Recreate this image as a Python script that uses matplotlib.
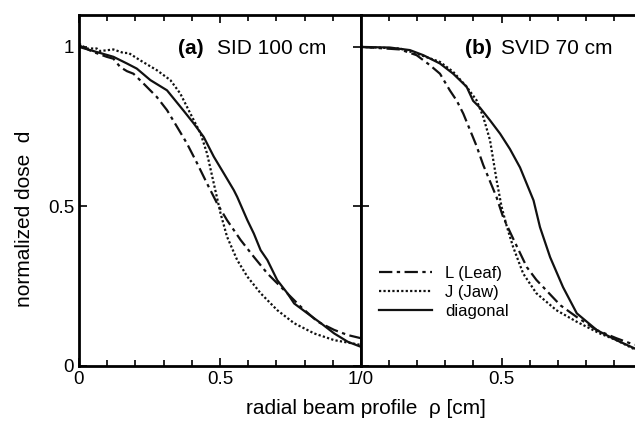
import numpy as np
import matplotlib
matplotlib.use('Agg')
import matplotlib.pyplot as plt
from matplotlib.ticker import MultipleLocator

plt.rcParams['font.family'] = ['Liberation Sans', 'DejaVu Sans']

# (a) SID 100 cm
a_diag_x = [0, 0.075, 0.122, 0.17, 0.205, 0.253, 0.312, 0.371, 0.407, 0.442, 0.478, 0.514,
            0.549, 0.561, 0.597, 0.62, 0.644, 0.668, 0.703, 0.739, 0.763, 0.81, 0.858, 0.905, 0.953, 1.0]
a_diag_y = [1.0, 0.981, 0.969, 0.948, 0.932, 0.896, 0.864, 0.80, 0.76, 0.718, 0.656, 0.603,
            0.551, 0.53, 0.457, 0.415, 0.363, 0.332, 0.269, 0.228, 0.196, 0.165, 0.134, 0.102, 0.076, 0.06]
a_jaw_x = [0, 0.027, 0.063, 0.075, 0.122, 0.158, 0.176, 0.217, 0.276, 0.324, 0.359, 0.395, 0.431,
           0.454, 0.478, 0.502, 0.525, 0.561, 0.597, 0.644, 0.703, 0.763, 0.834, 0.905, 1.0]
a_jaw_y = [1.01, 0.995, 0.995, 0.987, 0.992, 0.981, 0.981, 0.958, 0.927, 0.896, 0.854, 0.791, 0.729,
           0.666, 0.572, 0.478, 0.405, 0.332, 0.28, 0.228, 0.175, 0.134, 0.102, 0.081, 0.066]
a_leaf_x = [0, 0.051, 0.098, 0.122, 0.146, 0.17, 0.193, 0.229, 0.276, 0.312, 0.348, 0.383, 0.419,
            0.454, 0.49, 0.525, 0.573, 0.62, 0.668, 0.727, 0.786, 0.846, 0.905, 0.953, 1.0]
a_leaf_y = [1.005, 0.984, 0.969, 0.963, 0.937, 0.924, 0.916, 0.885, 0.843, 0.802, 0.749, 0.697, 0.635,
            0.572, 0.509, 0.457, 0.395, 0.342, 0.29, 0.238, 0.186, 0.139, 0.113, 0.097, 0.087]

# (b) SVID 70 cm
b_diag_x = [0, 0.103, 0.174, 0.222, 0.281, 0.328, 0.376, 0.399, 0.423, 0.459, 0.495, 0.53, 0.566,
            0.614, 0.637, 0.673, 0.719, 0.768, 0.84, 0.909, 0.974]
b_diag_y = [1.0, 0.998, 0.99, 0.974, 0.948, 0.916, 0.875, 0.831, 0.81, 0.77, 0.728, 0.68, 0.622,
            0.519, 0.435, 0.341, 0.247, 0.165, 0.112, 0.081, 0.055]
b_jaw_x = [0, 0.139, 0.198, 0.281, 0.328, 0.376, 0.411, 0.435, 0.459, 0.483, 0.5, 0.518, 0.541,
           0.577, 0.624, 0.695, 0.767, 0.85, 0.909, 0.974]
b_jaw_y = [1.0, 0.995, 0.979, 0.953, 0.922, 0.875, 0.833, 0.781, 0.708, 0.58, 0.5, 0.44, 0.374,
           0.29, 0.228, 0.175, 0.139, 0.102, 0.081, 0.052]
b_leaf_x = [0, 0.139, 0.198, 0.245, 0.281, 0.316, 0.341, 0.364, 0.411, 0.435, 0.482, 0.506, 0.541,
            0.59, 0.624, 0.71, 0.767, 0.838, 0.909, 0.974]
b_leaf_y = [1.0, 0.992, 0.974, 0.943, 0.916, 0.864, 0.831, 0.791, 0.69, 0.63, 0.53, 0.466, 0.4,
            0.31, 0.27, 0.19, 0.154, 0.113, 0.087, 0.066]

labels = ['L (Leaf)', 'J (Jaw)', 'diagonal']

fig = plt.figure(figsize=(6.35, 4.25), dpi=100)
ax1 = fig.add_axes([79/635, 59/425, 282/635, 351/425])
ax2 = fig.add_axes([361/635, 59/425, 274/635, 351/425])

lw = 1.6
for ax, leaf, jaw, diag in [(ax1, (a_leaf_x, a_leaf_y), (a_jaw_x, a_jaw_y), (a_diag_x, a_diag_y)),
                            (ax2, (b_leaf_x, b_leaf_y), (b_jaw_x, b_jaw_y), (b_diag_x, b_diag_y))]:
    ax.plot(*leaf, color='#111', lw=lw, ls=(0, (6, 2, 1.5, 2)), label=labels[0])
    ax.plot(*jaw, color='#111', lw=lw, ls=(0, (1, 1)), label=labels[1])
    ax.plot(*diag, color='#111', lw=lw, ls='-', label=labels[2])
    ax.set_ylim(0, 1.1)
    ax.xaxis.set_minor_locator(MultipleLocator(0.1))
    ax.tick_params(which='both', direction='in', top=True, right=True, labelsize=13.5, width=1.2)
    ax.tick_params(which='major', length=6)
    ax.tick_params(which='minor', length=4)
    for s in ax.spines.values():
        s.set_linewidth(2)

ax1.set_xlim(0, 1.0)
ax1.set_xticks([0, 0.5, 1.0])
ax1.set_xticklabels(['0', '0.5', '1/0'])
ax1.set_yticks([0, 0.5, 1])
ax1.set_yticklabels(['0', '0.5', '1'])
ax1.set_ylabel('normalized dose  d', fontsize=15)
ax1.yaxis.set_label_coords(-0.16, 0.42)

ax2.set_xlim(0, 274/281)
ax2.set_xticks([0, 0.5])
ax2.set_xticklabels(['', '0.5'])
ax2.set_yticks([0, 0.5, 1])
ax2.set_yticklabels([])
ax2.spines['right'].set_visible(False)
ax2.tick_params(right=False)

ax1.text(0.35, 0.905, '(a)', transform=ax1.transAxes, fontsize=15, fontweight='bold', va='center')
ax1.text(0.49, 0.905, 'SID 100 cm', transform=ax1.transAxes, fontsize=15, va='center')
ax2.text(0.38, 0.905, '(b)', transform=ax2.transAxes, fontsize=15, fontweight='bold', va='center')
ax2.text(0.51, 0.905, 'SVID 70 cm', transform=ax2.transAxes, fontsize=15, va='center')

ax2.legend(loc='upper left', bbox_to_anchor=(0.04, 0.305), frameon=False, fontsize=12,
           handlelength=3.2, handletextpad=0.8, labelspacing=0.25, borderaxespad=0)

fig.text(366/635, 1 - 409/425, 'radial beam profile  ρ [cm]', fontsize=15, ha='center', va='center')

fig.savefig('out.png', dpi=100)
